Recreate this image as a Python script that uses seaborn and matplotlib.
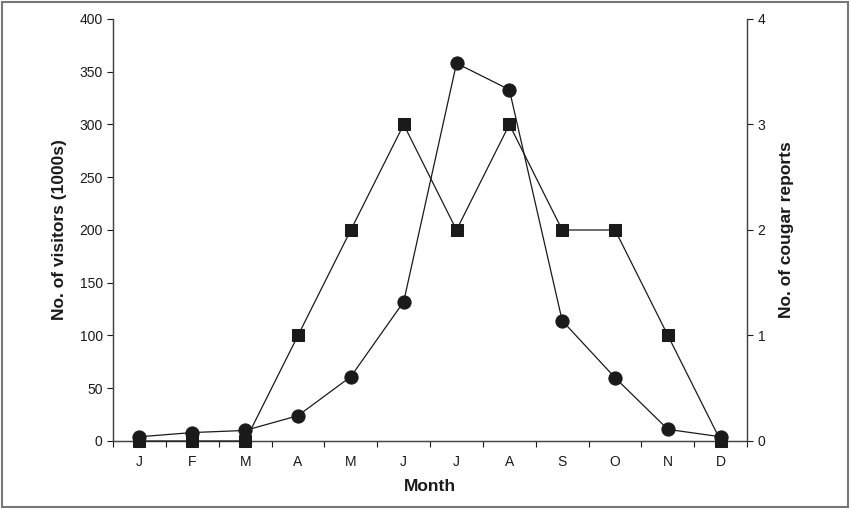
import numpy as np
import pandas as pd
import matplotlib
matplotlib.use("Agg")
import matplotlib.pyplot as plt
import seaborn as sns

# Monthly data
months = ['J', 'F', 'M', 'A', 'M', 'J', 'J', 'A', 'S', 'O', 'N', 'D']
visitors = [4, 8, 10, 24, 61, 132, 358, 333, 114, 60, 11, 4]   # 1000s
cougar_reports = [0, 0, 0, 1, 2, 3, 2, 3, 2, 2, 1, 0]

sns.set_style("ticks")
plt.rcParams['font.family'] = ['Liberation Sans', 'DejaVu Sans']

df = pd.DataFrame({'pos': np.arange(len(months)), 'month': months,
                   'visitors': visitors, 'reports': cougar_reports})

ink = '#1a1a1a'
fig = plt.figure(figsize=(8.5, 5.09), dpi=100)
ax = fig.add_axes([0.133, 0.1336, 0.746, 0.8291])
ax2 = ax.twinx()

sns.lineplot(data=df, x='pos', y='reports', ax=ax2, color=ink, lw=0.9,
             marker='s', markersize=9, markeredgecolor=ink, markerfacecolor=ink,
             clip_on=False, zorder=3)
sns.lineplot(data=df, x='pos', y='visitors', ax=ax, color=ink, lw=0.9,
             marker='o', markersize=9.5, markeredgecolor=ink, markerfacecolor=ink,
             clip_on=False, zorder=3)

ax.set_xlim(-0.5, len(months) - 0.5)
ax.set_ylim(0, 400)
ax2.set_ylim(0, 4)
ax.set_yticks(range(0, 401, 50))
ax2.set_yticks(range(0, 5))

# month labels at centres, tick marks at boundaries
ax.set_xticks(df['pos'])
ax.set_xticklabels(months)
ax.tick_params(axis='x', length=0, pad=10)
ax.set_xticks(np.arange(-0.5, len(months), 1.0), minor=True)
ax.tick_params(axis='x', which='minor', length=4, width=0.8, color=ink, direction='out')

ax.tick_params(axis='y', length=4, width=0.8, color=ink, labelsize=10, labelcolor=ink)
ax2.tick_params(axis='y', length=4, width=0.8, color=ink, labelsize=10, labelcolor=ink)
ax.tick_params(axis='x', labelsize=10, labelcolor=ink)

for a in (ax, ax2):
    a.spines['top'].set_visible(False)
    for s in ('left', 'right', 'bottom'):
        a.spines[s].set_linewidth(0.9)
        a.spines[s].set_color('#444444')

ax.set_xlabel('Month', fontsize=12.5, fontweight='bold', color=ink, labelpad=7)
ax.set_ylabel('No. of visitors (1000s)', fontsize=12.5, fontweight='bold', color=ink, labelpad=9)
ax2.set_ylabel('No. of cougar reports', fontsize=12.5, fontweight='bold', color=ink, labelpad=10)

# grey frame around the whole figure
fig.patches.append(plt.Rectangle((0.002, 0.003), 0.996, 0.994, transform=fig.transFigure,
                                 fill=False, edgecolor='#777777', lw=1.5))

fig.savefig('out.png', dpi=100)
